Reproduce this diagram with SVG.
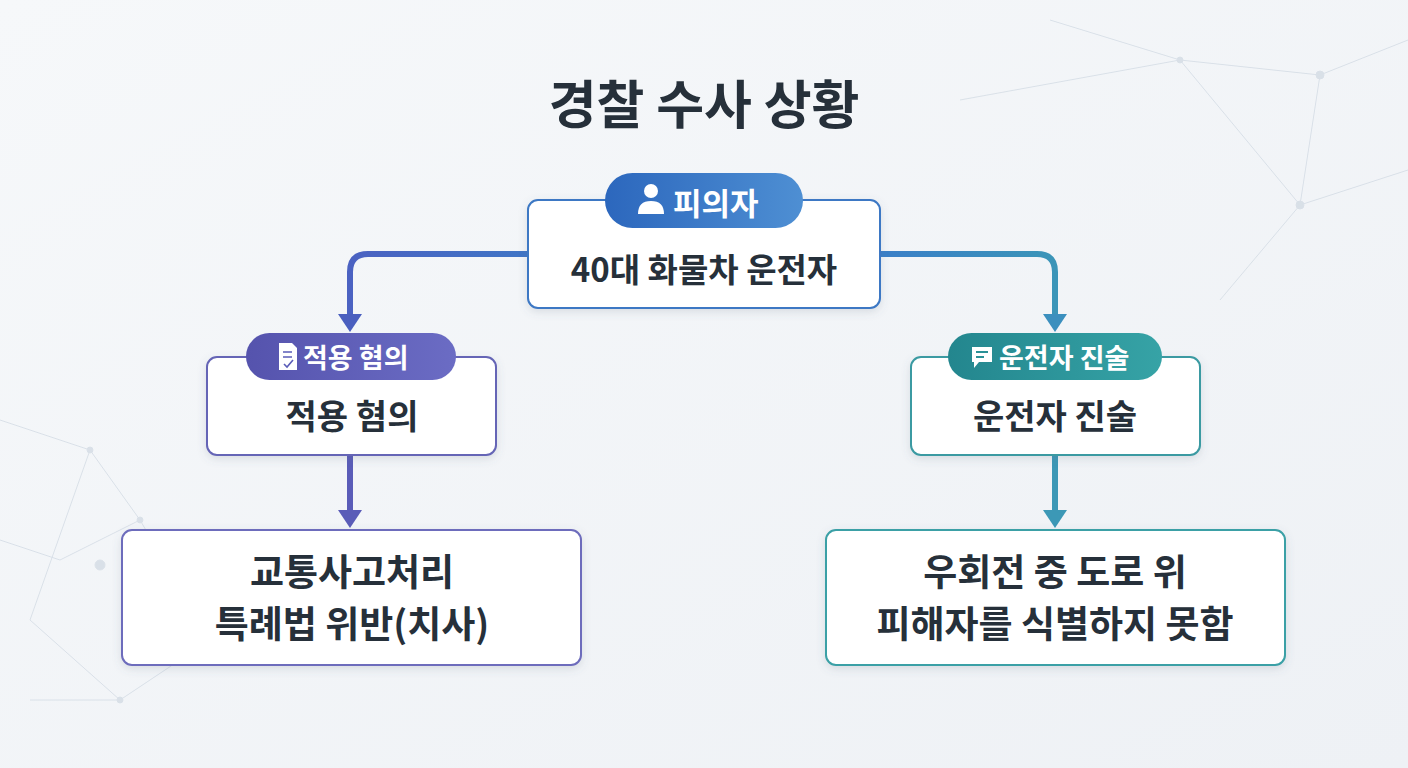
<svg xmlns="http://www.w3.org/2000/svg" width="1408" height="768" viewBox="0 0 1408 768">
<defs>
<linearGradient id="bg" x1="0" y1="0" x2="1" y2="1"><stop offset="0" stop-color="#f6f8fa"/><stop offset="1" stop-color="#eef1f5"/></linearGradient>
<linearGradient id="gb" x1="0" x2="1"><stop offset="0" stop-color="#2c67bd"/><stop offset="1" stop-color="#4e8fd3"/></linearGradient>
<linearGradient id="gp" x1="0" x2="1"><stop offset="0" stop-color="#5553ad"/><stop offset="1" stop-color="#6b6cc4"/></linearGradient>
<linearGradient id="gt" x1="0" x2="1"><stop offset="0" stop-color="#23868e"/><stop offset="1" stop-color="#36a3a6"/></linearGradient>
<linearGradient id="cl" x1="0" x2="1"><stop offset="0" stop-color="#4b62c2"/><stop offset="1" stop-color="#3f75c6"/></linearGradient>
<linearGradient id="cr" x1="0" x2="1"><stop offset="0" stop-color="#3a7fc8"/><stop offset="1" stop-color="#3b95b8"/></linearGradient>
<filter id="sh" x="-10%" y="-10%" width="120%" height="130%"><feDropShadow dx="0" dy="3" stdDeviation="4" flood-color="#5a6a80" flood-opacity="0.18"/></filter>
</defs>
<style>
.box{fill:#fff;stroke-width:2;filter:url(#sh)}
.t{font-family:"Noto Sans CJK KR","Noto Sans",sans-serif;font-weight:700;fill:#26303a;text-anchor:middle}
.p{font-family:"Noto Sans CJK KR","Noto Sans",sans-serif;font-weight:700;fill:#fff}
.c{fill:none;stroke-width:6;stroke-linejoin:round}
</style>
<rect width="1408" height="768" fill="url(#bg)"/>
<g stroke="#c9d3de" stroke-width="1" opacity="0.6" fill="#c9d3de">
<path d="M960 100 L1180 60 L1320 75 L1408 40 M1180 60 L1300 205 L1408 170 M1300 205 L1220 300 M1050 20 L1180 60 M1320 75 L1300 205 M0 420 L90 450 L140 520 L60 560 L0 540 M90 450 L30 620 L120 700 L210 640 M140 520 L210 640 M30 700 L120 700" fill="none"/>
<circle cx="1180" cy="60" r="3"/><circle cx="1320" cy="75" r="4"/><circle cx="1300" cy="205" r="4"/><circle cx="90" cy="450" r="3"/><circle cx="100" cy="565" r="5"/><circle cx="120" cy="700" r="3"/><circle cx="140" cy="520" r="3"/>
</g>
<text class="t" x="704" y="124" font-size="52" fill="#2b3745">경찰 수사 상황</text>
<g id="connectors">
<path class="c" stroke="url(#cl)" d="M528 254 H368 Q350 254 350 272 V316"/>
<polygon points="338,314 362,314 350,332" fill="#4a5fbf"/>
<path class="c" stroke="url(#cr)" d="M880 254 H1037 Q1055 254 1055 272 V316"/>
<polygon points="1043,314 1067,314 1055,332" fill="#3b8fbe"/>
<path class="c" stroke="#5a5cb8" d="M350 455 V512"/>
<polygon points="338,510 362,510 350,528" fill="#5a5cb8"/>
<path class="c" stroke="#3c98b6" d="M1055 455 V512"/>
<polygon points="1043,510 1067,510 1055,528" fill="#3c98b6"/>
</g>
<g id="suspect">
<rect class="box" x="528" y="200" width="352" height="108" rx="10" stroke="#3c78c4"/>
<rect x="605" y="173" width="198" height="55" rx="27.5" fill="url(#gb)"/>
<circle cx="651" cy="191" r="7" fill="#fff"/><path d="M638 214 Q638 201 651 201 Q664 201 664 214 Z" fill="#fff"/>
<text class="p" x="673" y="215" font-size="31">피의자</text>
<text class="t" x="704" y="282" font-size="33">40대 화물차 운전자</text>
</g>
<g id="charge">
<rect class="box" x="207" y="357" width="289" height="98" rx="10" stroke="#6565b6"/>
<rect x="246" y="333" width="210" height="47" rx="23.5" fill="url(#gp)"/>
<path d="M279 343 H292 L297 348 V370 H279 Z" fill="#fff"/><path d="M283 352 H292 M283 357 H292 M284 364 L287 367 L293 360" stroke="#5a5cb8" stroke-width="1.6" fill="none"/>
<text class="p" x="303" y="368" font-size="27">적용 혐의</text>
<text class="t" x="352" y="429" font-size="34">적용 혐의</text>
</g>
<g id="statement">
<rect class="box" x="911" y="357" width="289" height="98" rx="10" stroke="#3a9aa2"/>
<rect x="948" y="333" width="214" height="47" rx="23.5" fill="url(#gt)"/>
<path d="M972 347 H992 V362 H979 L974 368 V362 H972 Z" fill="#fff"/><path d="M976 352 H988 M976 357 H984" stroke="#2a9096" stroke-width="2"/>
<text class="p" x="999" y="368" font-size="27">운전자 진술</text>
<text class="t" x="1055" y="429" font-size="34">운전자 진술</text>
</g>
<g id="law">
<rect class="box" x="122" y="530" width="459" height="135" rx="10" stroke="#6d6cbc"/>
<text class="t" x="352" y="586" font-size="37">교통사고처리</text>
<text class="t" x="352" y="638" font-size="37">특례법 위반(치사)</text>
</g>
<g id="reason">
<rect class="box" x="826" y="530" width="459" height="135" rx="10" stroke="#3aa0a6"/>
<text class="t" x="1055" y="586" font-size="37">우회전 중 도로 위</text>
<text class="t" x="1055" y="638" font-size="37">피해자를 식별하지 못함</text>
</g>
</svg>
